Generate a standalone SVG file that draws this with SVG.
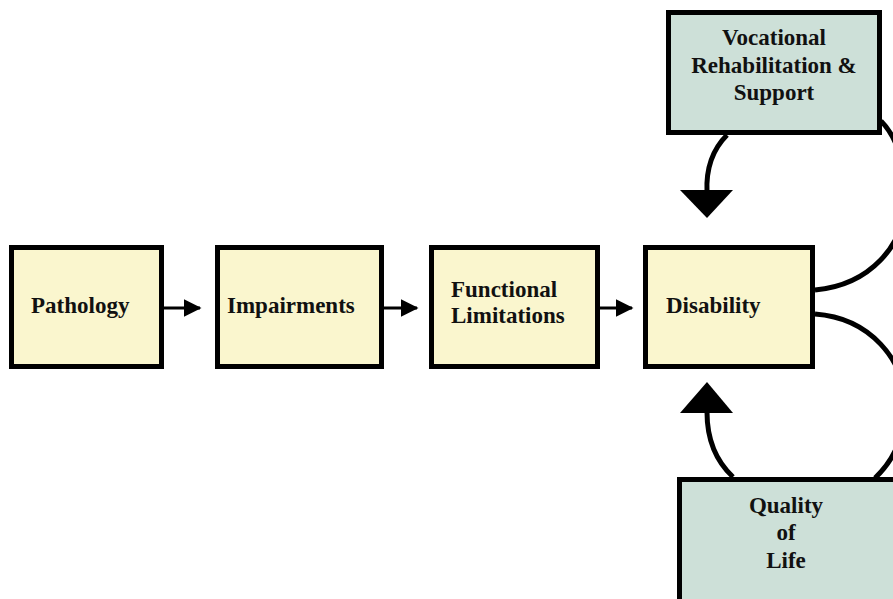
<svg xmlns="http://www.w3.org/2000/svg" width="893" height="599" viewBox="0 0 893 599">
<style>
.y{fill:#FAF6CE;stroke:#000;stroke-width:5}
.g{fill:#CDE0D8;stroke:#000;stroke-width:5}
text{font-family:"Liberation Serif","Times New Roman",serif;font-weight:bold;font-size:23px;fill:#111}
.c{text-anchor:middle}
.ln{fill:none;stroke:#000;stroke-width:3}
.cv{fill:none;stroke:#000;stroke-width:5}
</style>
<defs>
<marker id="ah" markerWidth="6" markerHeight="6" refX="5.5" refY="3" orient="auto" markerUnits="strokeWidth">
<path d="M0,0 L6,3 L0,6 Z" fill="#000"/>
</marker>
</defs>
<rect width="893" height="599" fill="#fff"/>
<g id="pathology"><rect class="y" x="11.5" y="247.5" width="150" height="119"/><text x="31" y="313">Pathology</text></g>
<g id="impairments"><rect class="y" x="217.5" y="247.5" width="164" height="119"/><text x="227" y="313">Impairments</text></g>
<g id="functional"><rect class="y" x="431.5" y="247.5" width="166" height="119"/><text x="451" y="297">Functional</text><text x="451" y="323">Limitations</text></g>
<g id="disability"><rect class="y" x="645.5" y="247.5" width="167" height="119"/><text x="666" y="313">Disability</text></g>
<g id="vocational"><rect class="g" x="668.5" y="12.5" width="211" height="120"/><text class="c" x="774" y="45">Vocational</text><text class="c" x="774" y="73">Rehabilitation &amp;</text><text class="c" x="774" y="100">Support</text></g>
<g id="quality"><rect class="g" x="679.5" y="479.5" width="216" height="122"/><text class="c" x="786" y="513">Quality</text><text class="c" x="786" y="540">of</text><text class="c" x="786" y="568">Life</text></g>
<g id="connectors">
<path class="ln" d="M164,308 H200" marker-end="url(#ah)"/>
<path class="ln" d="M384,308 H417" marker-end="url(#ah)"/>
<path class="ln" d="M600,308 H632" marker-end="url(#ah)"/>
<path class="cv" d="M727,135 C712,150 706,170 707,192"/>
<path d="M680,190 L733,190 L707,218 Z" fill="#000"/>
<path class="cv" d="M733,477 C717,462 707,440 707,412"/>
<path d="M680,413 L733,413 L707,382 Z" fill="#000"/>
<path class="cv" d="M815,290 C870,285 905,245 905,200 C905,160 895,135 881,121"/>
<path class="cv" d="M815,314 C870,318 905,360 905,405 C905,440 892,462 875,478"/>
</g>
</svg>
